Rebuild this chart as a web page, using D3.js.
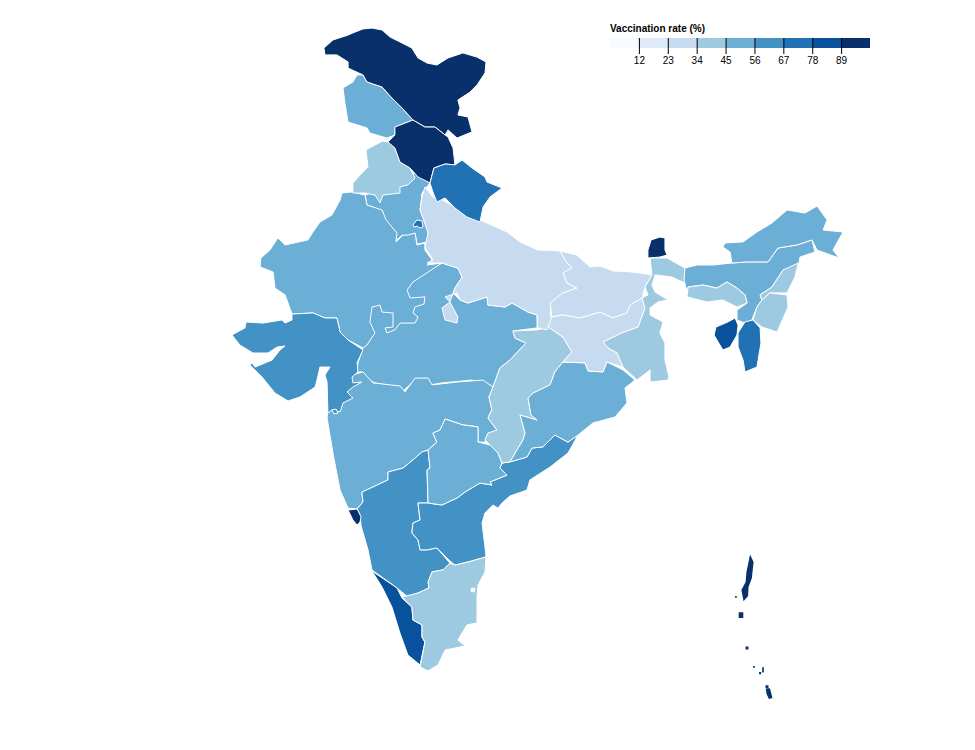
<!DOCTYPE html>
<html>
<head>
<meta charset="utf-8">
<script src="https://cdn.jsdelivr.net/npm/d3@7"></script>
<style>
  body { margin: 0; background: #fff; }
  svg { display: block; }
  text { font-family: "Liberation Sans", Arial, sans-serif; }
</style>
</head>
<body>
<svg width="975" height="750"></svg>
<script>
// legend
var legendTitle = "Vaccination rate (%)";
var thresholds = [12, 23, 34, 45, 56, 67, 78, 89];

// states, bottom one first: later states paint over the shared borders.
// rates are estimated from the colour bin of each state in the picture
var stateNames = ["Haryana", "Madhya Pradesh", "Rajasthan", "Maharashtra", "Karnataka", "Andhra Pradesh", "Telangana", "Chhattisgarh", "Odisha", "Gujarat", "Dadra and Nagar Haveli", "Goa", "Kerala", "Tamil Nadu", "Puducherry", "Uttar Pradesh", "Bihar", "Jharkhand", "West Bengal", "Punjab", "Jammu and Kashmir", "Ladakh", "Himachal Pradesh", "Uttarakhand", "Delhi", "Sikkim", "Assam", "Arunachal Pradesh", "Nagaland", "Manipur", "Meghalaya", "Mizoram", "Tripura", "Andaman and Nicobar"];
var stateRates = [50, 50, 50, 50, 60, 60, 50, 40, 50, 60, 60, 95, 85, 40, 8, 30, 28, 30, 40, 40, 50, 95, 95, 70, 70, 95, 50, 50, 40, 40, 40, 72, 82, 92];

// outlines in [lon, lat]
var stateOutlines = [
  [[[76.86,30.68],[77.57,30.23],[77.19,29.77],[77.10,29.00],[77.48,28.09],[77.48,27.55],[76.95,27.45],[76.86,27.95],[76.52,27.77],[76.24,27.86],[75.90,27.55],[75.95,27.86],[75.43,28.45],[75.33,28.91],[74.57,29.23],[74.48,29.68],[75.19,29.91],[76.14,30.36]]],
  [[[78.14,26.59],[78.90,26.36],[79.10,25.95],[78.76,25.45],[78.67,25.23],[79.00,24.91],[79.38,24.77],[80.29,25.05],[80.33,24.68],[81.14,24.59],[81.48,24.77],[82.24,24.36],[82.67,24.23],[82.67,23.64],[81.52,23.50],[81.62,23.18],[82.14,22.95],[81.38,22.18],[80.90,21.82],[80.57,20.95],[80.43,21.05],[79.57,21.27],[78.14,21.14],[77.57,21.05],[77.33,21.36],[76.86,21.27],[76.24,20.73],[76.05,20.95],[74.95,21.14],[74.48,21.36],[74.33,21.64],[74.10,21.64],[74.14,22.05],[74.38,22.73],[74.62,24.68],[76.14,25.59]]],
  [[[73.38,29.77],[73.86,29.82],[74.48,29.68],[74.57,29.23],[75.29,29.00],[75.48,28.55],[76.00,27.95],[75.95,27.55],[76.29,27.86],[76.52,27.86],[76.86,27.95],[76.95,27.41],[77.33,27.50],[77.33,27.18],[77.67,26.73],[77.43,26.50],[78.14,26.59],[76.76,25.73],[76.48,25.36],[76.62,25.00],[77.33,25.05],[77.29,24.73],[76.86,24.59],[76.76,24.32],[77.00,24.14],[76.86,23.86],[76.14,23.86],[75.90,23.55],[75.52,23.41],[75.43,23.64],[75.81,23.68],[75.81,24.32],[75.29,24.36],[75.19,24.68],[74.81,24.59],[74.71,23.91],[74.95,23.41],[74.57,22.86],[74.38,22.73],[73.67,23.09],[73.29,23.45],[73.14,24.09],[72.57,24.09],[72.00,24.32],[71.00,24.27],[70.67,25.14],[70.19,25.45],[70.10,26.18],[69.48,26.41],[69.52,26.82],[69.95,27.18],[70.33,27.73],[70.67,27.41],[71.76,27.64],[72.00,28.00],[72.33,28.45],[72.90,28.77],[73.29,29.45]]],
  [[[74.38,21.64],[74.86,21.14],[76.14,21.00],[76.38,20.73],[76.86,21.36],[77.48,21.36],[77.67,21.05],[78.86,21.18],[80.10,21.27],[80.57,20.95],[80.38,20.50],[80.52,19.91],[80.33,19.55],[80.76,19.00],[80.29,18.77],[80.19,18.45],[79.86,18.45],[79.86,19.14],[79.14,19.23],[78.29,19.50],[78.05,19.00],[77.71,18.86],[77.90,18.45],[77.48,18.09],[77.19,18.00],[76.76,17.64],[76.29,17.27],[75.57,17.09],[75.57,16.73],[74.86,16.41],[74.33,16.18],[74.38,15.73],[74.10,15.41],[73.67,15.45],[73.29,16.27],[72.95,17.95],[72.67,19.55],[72.71,19.91],[73.43,20.23],[73.60,20.80],[73.50,21.40]]],
  [[[74.24,15.14],[74.29,14.64],[74.62,13.55],[74.81,12.64],[76.00,11.82],[76.52,11.41],[77.00,11.59],[77.52,11.82],[77.48,12.09],[77.67,12.55],[78.19,12.64],[78.52,12.95],[77.90,13.64],[77.43,13.55],[77.10,13.55],[77.00,14.00],[76.71,14.32],[76.76,14.77],[77.10,14.91],[77.00,15.68],[77.48,15.68],[77.43,17.18],[77.57,17.27],[77.48,18.09],[77.19,18.00],[76.76,17.64],[76.29,17.27],[75.57,17.09],[75.57,16.73],[74.86,16.41],[74.33,16.18],[74.38,15.73],[74.10,15.41]]],
  [[[84.62,18.77],[84.14,17.95],[83.29,17.32],[82.33,16.73],[82.19,16.27],[81.38,16.00],[81.00,15.68],[80.81,15.45],[80.57,15.59],[80.19,15.23],[80.05,14.77],[80.19,13.68],[80.24,13.23],[79.38,13.00],[78.76,12.86],[78.52,13.05],[77.90,13.64],[77.43,13.55],[77.10,13.55],[77.00,14.00],[76.71,14.32],[76.76,14.77],[77.10,14.91],[77.00,15.68],[77.48,15.68],[78.14,15.59],[78.86,15.91],[79.24,16.18],[79.95,16.59],[80.52,16.50],[80.43,16.64],[81.24,16.95],[80.90,17.27],[81.00,17.50],[81.38,17.55],[82.19,17.77],[82.43,18.18],[82.95,18.23],[83.52,18.77],[84.14,18.45]]],
  [[[78.29,19.50],[79.14,19.23],[79.86,19.14],[79.86,18.45],[80.43,18.32],[80.81,17.95],[81.00,17.50],[80.90,17.27],[81.24,16.95],[80.43,16.64],[80.52,16.50],[79.95,16.59],[79.24,16.18],[78.86,15.91],[78.14,15.59],[77.48,15.68],[77.43,17.18],[77.57,17.27],[77.48,18.09],[77.90,18.45],[77.71,18.86],[78.05,19.00]]],
  [[[81.52,23.50],[82.67,23.55],[83.19,23.68],[83.90,23.23],[84.33,22.55],[83.90,22.09],[83.52,21.64],[83.29,21.05],[82.48,20.68],[82.24,20.45],[82.38,19.68],[82.67,19.45],[81.86,19.68],[82.10,18.86],[82.00,18.55],[81.38,17.55],[81.00,17.50],[80.81,17.95],[80.43,18.32],[80.19,18.55],[80.33,18.86],[80.76,19.00],[80.33,19.55],[80.52,19.91],[80.38,20.50],[80.57,20.95],[80.90,21.82],[81.38,22.18],[82.14,22.95],[81.62,23.18]]],
  [[[83.90,22.09],[84.95,22.05],[85.10,21.68],[85.81,21.64],[86.00,22.09],[86.76,21.73],[87.33,21.27],[86.86,20.91],[86.95,20.23],[86.38,19.59],[85.33,19.32],[84.62,18.77],[84.14,18.45],[83.52,18.77],[82.95,18.23],[82.43,18.18],[82.19,17.77],[81.38,17.55],[82.00,18.55],[82.10,18.86],[81.86,19.68],[82.67,19.45],[82.38,19.68],[82.24,20.45],[82.48,20.68],[83.29,21.05],[83.52,21.64]]],
  [[[71.00,24.27],[72.00,24.32],[72.57,24.09],[73.14,24.09],[73.29,23.45],[73.67,23.09],[74.38,22.64],[74.10,22.05],[74.14,21.64],[73.86,21.41],[73.90,21.14],[74.33,21.18],[73.90,20.95],[73.62,20.73],[73.90,20.45],[73.43,20.23],[73.29,19.82],[72.90,19.91],[72.71,19.77],[72.67,21.18],[72.57,21.50],[72.81,21.86],[72.33,21.86],[72.19,21.27],[72.10,20.95],[71.38,20.50],[70.81,20.32],[70.19,20.68],[69.57,21.41],[69.00,21.95],[69.10,22.05],[69.24,21.86],[70.05,22.18],[70.43,22.64],[70.67,22.82],[70.29,22.77],[69.86,22.50],[69.14,22.50],[68.52,22.86],[68.14,23.32],[68.76,23.64],[68.81,23.91],[69.62,23.86],[70.52,24.00],[70.67,23.86],[71.00,24.00]]],
  [[[72.90,19.91],[73.10,19.95],[73.19,19.77],[73.00,19.73]]],
  [[[73.67,15.36],[74.10,15.41],[74.29,15.05],[74.24,14.82],[74.10,14.68],[73.90,14.91]]],
  [[[74.81,12.59],[76.00,11.82],[76.24,11.36],[76.71,10.95],[76.76,10.36],[77.19,10.14],[77.19,9.59],[77.33,9.36],[77.10,8.32],[76.52,8.77],[76.14,9.77],[75.76,10.95],[75.29,11.86]]],
  [[[76.24,11.41],[77.00,11.59],[77.52,11.82],[77.48,12.09],[77.67,12.55],[78.19,12.64],[78.52,12.95],[78.76,12.86],[79.38,13.00],[80.24,13.23],[80.19,12.55],[79.86,11.95],[79.81,11.41],[79.81,10.23],[79.33,10.14],[78.90,9.45],[79.24,9.18],[78.29,9.00],[77.95,8.32],[77.48,8.05],[77.10,8.23],[77.33,9.36],[77.19,9.59],[77.19,10.14],[76.76,10.36],[76.71,10.95]]],
  [[[79.54,11.81],[79.70,11.81],[79.70,11.65],[79.54,11.65]]],
  [[[77.33,30.05],[77.71,29.59],[78.19,29.45],[78.86,29.09],[79.38,28.68],[79.95,28.55],[81.24,28.00],[81.86,27.55],[82.71,27.18],[83.76,27.14],[84.00,26.73],[84.33,26.36],[83.90,26.14],[84.10,25.68],[84.57,25.45],[83.90,25.23],[83.38,24.77],[83.29,24.32],[83.38,24.00],[83.14,23.55],[82.71,23.64],[82.67,24.23],[82.24,24.36],[81.48,24.77],[81.14,24.59],[80.33,24.68],[80.29,25.05],[79.38,24.77],[79.00,24.91],[78.86,25.23],[78.29,25.05],[78.52,24.82],[78.14,24.55],[78.29,24.00],[78.86,23.86],[78.90,24.14],[78.52,24.82],[78.76,25.45],[79.10,25.95],[78.90,26.36],[78.14,26.59],[77.43,26.59],[77.71,26.73],[77.33,27.32],[77.48,27.95],[77.10,29.00],[77.19,29.59]]],
  [[[83.76,27.14],[84.57,26.95],[85.19,26.41],[85.67,26.45],[86.29,26.23],[87.24,26.18],[88.14,26.05],[87.81,25.50],[87.67,25.00],[87.10,24.68],[86.95,24.32],[86.29,24.09],[85.67,24.36],[84.71,24.09],[83.90,24.23],[83.38,24.14],[83.29,24.77],[83.90,25.23],[84.57,25.45],[84.10,25.68],[83.90,26.14],[84.33,26.36],[84.00,26.73]]],
  [[[83.38,24.14],[83.90,24.23],[84.71,24.09],[85.67,24.36],[86.29,24.09],[86.95,24.32],[87.10,24.68],[87.67,25.00],[87.81,24.55],[87.48,23.68],[86.71,23.41],[85.81,23.00],[86.05,22.73],[86.48,22.50],[86.76,21.86],[86.00,22.09],[85.81,21.64],[85.10,21.68],[84.95,22.05],[83.90,22.09],[84.33,22.55],[83.90,23.23],[83.19,23.68]]],
  [[[88.05,26.82],[88.86,26.82],[89.71,26.36],[89.71,25.68],[89.10,25.95],[88.29,26.05],[88.14,25.59],[88.29,25.27],[88.90,24.91],[88.43,24.82],[88.05,24.55],[88.05,24.23],[88.67,23.91],[88.52,23.41],[88.76,22.95],[88.76,22.18],[88.95,21.41],[88.90,21.27],[88.05,21.18],[88.05,21.73],[87.43,21.27],[86.76,21.86],[86.48,22.50],[86.05,22.73],[85.81,23.00],[86.71,23.41],[87.48,23.68],[87.81,24.55],[87.67,25.00],[87.95,25.14],[87.81,25.50],[88.14,26.05]]],
  [[[75.33,32.14],[75.57,32.09],[75.90,31.82],[76.14,31.18],[76.62,30.91],[76.86,30.45],[76.52,30.14],[76.14,30.05],[76.14,29.77],[75.33,29.68],[75.19,29.32],[74.95,29.68],[74.48,29.77],[73.90,29.77],[73.90,30.23],[74.33,30.68],[74.62,30.95],[74.52,31.73],[74.95,31.95]]],
  [[[74.10,35.14],[74.38,35.14],[74.57,34.82],[75.29,34.59],[75.76,34.09],[76.24,33.64],[76.76,33.09],[75.90,32.77],[75.90,32.41],[75.52,32.27],[74.71,32.50],[74.57,32.73],[73.67,33.00],[73.52,33.86],[73.43,34.55],[73.90,34.82]]],
  [[[72.52,36.36],[72.95,36.73],[73.67,36.95],[73.90,37.05],[74.38,37.23],[74.81,37.27],[75.29,37.18],[75.67,36.86],[76.14,36.64],[76.71,36.36],[77.00,35.91],[77.43,35.68],[77.90,35.59],[78.43,35.91],[79.14,36.14],[79.81,35.95],[80.24,35.73],[80.19,35.23],[79.81,34.68],[79.48,34.36],[78.90,34.00],[79.00,33.64],[78.90,33.32],[79.38,33.23],[79.57,32.55],[78.86,32.27],[78.43,32.64],[78.29,32.41],[77.81,32.77],[77.33,32.77],[76.76,33.09],[76.24,33.64],[75.76,34.09],[75.29,34.59],[74.57,34.82],[74.38,35.14],[73.67,35.45],[73.67,35.73],[73.14,36.05],[72.57,36.05]]],
  [[[76.76,33.09],[75.90,32.77],[75.90,32.41],[75.57,32.09],[75.90,31.82],[76.14,31.18],[76.62,30.91],[77.00,30.50],[77.57,30.23],[77.76,30.91],[78.29,31.09],[78.76,31.05],[78.67,31.82],[78.43,32.32],[78.29,32.41],[77.81,32.77],[77.33,32.77]]],
  [[[77.76,30.91],[78.29,31.09],[78.76,31.05],[79.10,31.27],[79.57,30.91],[80.19,30.50],[80.29,30.27],[81.00,30.00],[80.43,29.59],[80.10,29.14],[79.95,28.45],[79.33,28.68],[78.76,29.09],[78.29,29.55],[77.90,29.36],[77.71,29.82],[77.57,30.23]]],
  [[[76.76,28.32],[76.95,28.55],[77.19,28.50],[77.24,28.23],[77.10,28.18],[76.95,28.27],[76.81,28.23]]],
  [[[88.10,27.64],[88.52,27.77],[88.76,27.73],[88.76,27.18],[88.86,26.95],[88.52,26.86],[87.95,26.82],[87.95,27.18]]],
  [[[89.71,26.36],[90.29,26.50],[91.05,26.50],[91.95,26.59],[92.67,26.64],[93.67,26.64],[94.14,27.27],[95.05,27.41],[95.76,27.64],[95.90,27.09],[95.19,26.86],[95.10,26.36],[94.38,26.27],[93.86,25.50],[93.29,25.14],[93.38,24.91],[93.14,24.59],[92.90,24.00],[92.57,23.86],[92.19,24.00],[92.19,24.45],[92.67,24.77],[92.57,25.14],[92.19,25.45],[91.71,25.73],[91.24,25.45],[90.57,25.59],[89.86,25.50],[89.81,25.27],[89.67,25.82]]],
  [[[91.95,26.59],[91.86,27.09],[91.52,27.32],[91.62,27.50],[92.48,27.55],[93.14,28.00],[93.86,28.41],[94.57,29.00],[95.43,28.86],[96.00,29.18],[96.48,28.55],[96.29,28.09],[97.24,28.00],[96.76,27.18],[97.05,26.82],[96.00,27.18],[95.76,27.64],[95.05,27.41],[94.14,27.27],[93.67,26.64],[92.67,26.64]]],
  [[[95.10,26.59],[94.95,25.95],[94.57,25.23],[93.76,25.23],[93.38,24.91],[93.29,25.14],[93.86,25.50],[94.38,26.27]]],
  [[[93.76,25.23],[94.57,25.14],[94.62,24.59],[94.10,23.45],[93.38,23.68],[92.95,24.00],[93.14,24.59],[93.38,24.91]]],
  [[[89.86,25.50],[90.57,25.59],[91.24,25.45],[91.71,25.73],[92.19,25.45],[92.57,25.14],[92.67,24.77],[92.19,24.59],[91.52,24.91],[90.76,24.82],[89.81,25.05]]],
  [[[92.57,23.91],[92.95,24.00],[93.29,23.64],[93.33,22.95],[93.14,21.86],[92.57,21.64],[92.48,22.18],[92.24,22.77],[92.24,23.41]]],
  [[[92.10,24.09],[92.24,23.77],[92.19,23.32],[91.86,22.77],[91.52,22.64],[91.29,23.00],[91.10,23.32],[91.19,23.68],[91.76,23.91]]],
  [
    [[92.81,13.34],[92.98,13.00],[92.90,12.27],[92.74,11.86],[92.72,11.45],[92.50,11.22],[92.40,11.73],[92.60,12.09],[92.64,12.55],[92.74,13.00]],
    [[92.27,10.72],[92.49,10.72],[92.49,10.46],[92.27,10.46]],
    [[92.10,11.45],[92.18,11.45],[92.18,11.37],[92.10,11.37]],
    [[92.60,9.16],[92.74,9.16],[92.74,9.02],[92.60,9.02]],
    [[92.96,8.27],[93.04,8.27],[93.04,8.19],[92.96,8.19]],
    [[93.24,8.00],[93.34,8.00],[93.34,7.90],[93.24,7.90]],
    [[93.39,8.22],[93.47,8.22],[93.47,7.98],[93.39,7.98]],
    [[93.55,7.40],[93.69,7.40],[93.69,7.26],[93.55,7.26]],
    [[93.56,7.24],[93.76,7.26],[93.88,6.82],[93.71,6.77],[93.60,7.00]]
  ]
];

var svg = d3.select("svg");

// lon/lat to page
var xScale = d3.scaleLinear().domain([68, 98]).range([229, 859]);
var yScale = d3.scaleLinear().domain([8, 38]).range([672, 12]);

var projection = d3.geoTransform({
  point: function(lon, lat) {
    this.stream.point(xScale(lon), yScale(lat));
  }
});
var path = d3.geoPath(projection);

var color = d3.scaleThreshold()
  .domain(thresholds)
  .range(d3.schemeBlues[9]);

// geojson rings must end on their first point or d3 drops the last vertex
function closeRing(ring) {
  return ring.concat([ring[0]]);
}

var states = stateNames.map(function(name, i) {
  return {
    type: "Feature",
    properties: { name: name, rate: stateRates[i] },
    geometry: { type: "Polygon", coordinates: stateOutlines[i].map(closeRing) }
  };
});

// islands are separate rings, the rest have just one
var islands = states[states.length - 1];
islands.geometry = {
  type: "MultiPolygon",
  coordinates: stateOutlines[states.length - 1].map(function(ring) { return [closeRing(ring)]; })
};

svg.append("g")
  .selectAll("path")
  .data(states)
  .enter().append("path")
  .attr("d", path)
  .attr("fill", function(d) { return color(d.properties.rate); })
  // a white line would eat the tiny islands
  .attr("stroke", function(d) { return d === islands ? "none" : "#fff"; })
  .attr("stroke-width", 1)
  .attr("stroke-linejoin", "round");

// threshold legend
var legendX = d3.scaleLinear()
  .domain([-1, thresholds.length])
  .range([610, 870]);

var legend = svg.append("g").attr("id", "legend");

legend.append("g")
  .selectAll("rect")
  .data(color.range())
  .enter().append("rect")
  .attr("x", function(d, i) { return legendX(i - 1); })
  .attr("y", 38)
  .attr("width", function(d, i) { return legendX(i) - legendX(i - 1); })
  .attr("height", 10)
  .attr("fill", function(d) { return d; });

var legendAxis = d3.axisBottom(legendX)
  .tickValues(d3.range(thresholds.length))
  .tickFormat(function(i) { return thresholds[i]; })
  .tickSize(16)
  .tickPadding(3);

legend.append("g")
  .attr("transform", "translate(0,38)")
  .call(legendAxis)
  .call(function(g) { g.select(".domain").remove(); })
  .call(function(g) {
    g.selectAll("text").attr("font-family", "Liberation Sans, Arial, sans-serif").attr("font-size", 10);
  });

legend.append("text")
  .attr("x", 610)
  .attr("y", 32)
  .attr("font-size", 10)
  .attr("font-weight", "bold")
  .text(legendTitle);
</script>
</body>
</html>
